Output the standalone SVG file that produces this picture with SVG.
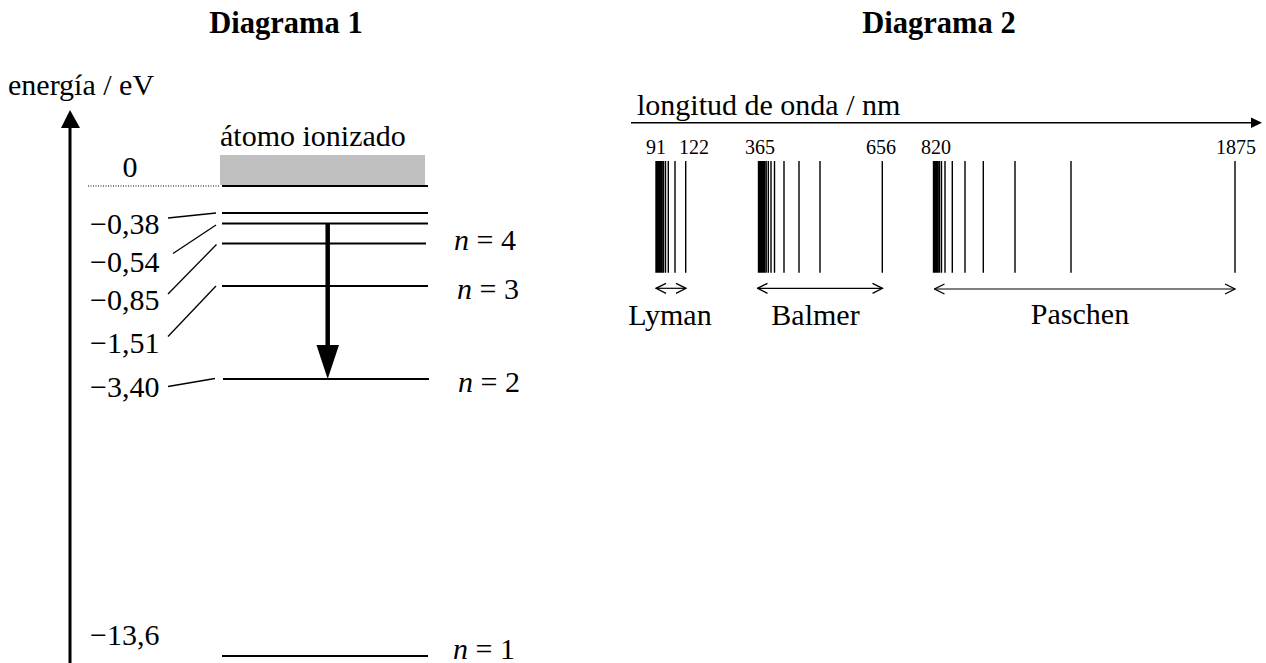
<svg xmlns="http://www.w3.org/2000/svg" width="1266" height="663" viewBox="0 0 1266 663">
<style>
text{font-family:"Liberation Serif","Times New Roman",serif;fill:#000}
.t{font-size:30px}
.h{font-size:30.5px;font-weight:bold}
.s{font-size:20px}
.lv{stroke:#000;stroke-width:2.2;fill:none}
.ld{stroke:#000;stroke-width:1.3;fill:none}
.sp{stroke:#000;stroke-width:1.4;fill:none}
.da{stroke:#000;stroke-width:1.2;fill:none}
</style>
<defs>
<marker id="open" viewBox="0 0 12 12" refX="11" refY="6" markerWidth="12" markerHeight="12" markerUnits="userSpaceOnUse" orient="auto-start-reverse">
<path d="M1,1 L11,6 L1,11" fill="none" stroke="#000" stroke-width="1.3"/>
</marker>
</defs>
<g font-family="Liberation Serif, Times New Roman, serif">
<g id="titles">
<text class="h" x="286" y="33" text-anchor="middle">Diagrama 1</text>
<text class="h" x="939" y="33" text-anchor="middle">Diagrama 2</text>
</g>

<g id="diagram1">
<g id="energy-axis">
<line x1="70" y1="126" x2="70" y2="663" stroke="#000" stroke-width="3"/>
<polygon points="70,110 61,128 80,128" fill="#000"/>
<text class="t" x="8" y="95">energía / eV</text>
</g>
<g id="ionized">
<rect x="220" y="155" width="205" height="30" fill="#c0c0c0"/>
<text class="t" x="220" y="146">átomo ionizado</text>
<line x1="88" y1="186" x2="220" y2="186" stroke="#000" stroke-width="1" stroke-dasharray="1,1.5"/>
<line class="lv" x1="222" y1="186" x2="428" y2="186"/>
<text class="t" x="130" y="177" text-anchor="middle">0</text>
</g>
<g id="levels">
<line class="lv" x1="222" y1="213" x2="428" y2="213"/>
<line class="lv" x1="222" y1="223.5" x2="428" y2="223.5"/>
<line class="lv" x1="222" y1="243.5" x2="426" y2="243.5"/>
<line class="lv" x1="222" y1="286" x2="428" y2="286"/>
<line class="lv" x1="223" y1="379" x2="429" y2="379"/>
<line class="lv" x1="222" y1="656" x2="428" y2="656"/>
</g>
<g id="level-labels">
<text class="t" x="90" y="234">−0,38</text>
<text class="t" x="90" y="272">−0,54</text>
<text class="t" x="90" y="310">−0,85</text>
<text class="t" x="90" y="353">−1,51</text>
<text class="t" x="90" y="397">−3,40</text>
<text class="t" x="90" y="645">−13,6</text>
</g>
<g id="leaders">
<line class="ld" x1="168" y1="218" x2="216" y2="213"/>
<line class="ld" x1="173" y1="253.5" x2="216" y2="225"/>
<line class="ld" x1="168" y1="294" x2="216.5" y2="244.5"/>
<line class="ld" x1="168" y1="336.5" x2="216" y2="286"/>
<line class="ld" x1="168" y1="386.5" x2="215" y2="378.5"/>
</g>
<g id="n-labels">
<text class="t" x="454" y="250"><tspan font-style="italic">n</tspan> = 4</text>
<text class="t" x="457" y="299"><tspan font-style="italic">n</tspan> = 3</text>
<text class="t" x="458" y="392"><tspan font-style="italic">n</tspan> = 2</text>
<text class="t" x="453" y="659"><tspan font-style="italic">n</tspan> = 1</text>
</g>
<g id="transition">
<line x1="327.7" y1="223.5" x2="327.7" y2="347" stroke="#000" stroke-width="4.5"/>
<polygon points="316.5,345 339,345 327.7,379" fill="#000"/>
</g>
</g>

<g id="diagram2">
<g id="wavelength-axis">
<line x1="631" y1="122.7" x2="1253" y2="122.7" stroke="#000" stroke-width="1.6"/>
<polygon points="1262,122.7 1251,117.5 1251,128" fill="#000"/>
<text class="t" x="637" y="115">longitud de onda / nm</text>
</g>
<g id="tick-labels">
<text class="s" x="646" y="154">91</text>
<text class="s" x="679" y="154">122</text>
<text class="s" x="745" y="154">365</text>
<text class="s" x="866" y="154">656</text>
<text class="s" x="921" y="154">820</text>
<text class="s" x="1216" y="154">1875</text>
</g>
<g id="lyman">
<path class="sp" d="M656,161V272.7M657.2,161V272.7M658.4,161V272.7M659.6,161V272.7M660.8,161V272.7M662,161V272.7M663.5,161V272.7M665.5,161V272.7M668.3,161V272.7M675,161V272.7M685.7,161V272.7"/>
</g>
<g id="balmer">
<path class="sp" d="M758.5,161V272.7M759.7,161V272.7M760.9,161V272.7M762.1,161V272.7M763.3,161V272.7M764.6,161V272.7M766.2,161V272.7M768.3,161V272.7M771,161V272.7M774.5,161V272.7M784,161V272.7M799,161V272.7M820,161V272.7M882.3,161V272.7"/>
</g>
<g id="paschen">
<path class="sp" d="M933.5,161V272.7M934.6,161V272.7M935.7,161V272.7M936.8,161V272.7M938,161V272.7M939.5,161V272.7M941.5,161V272.7M945,161V272.7M952.3,161V272.7M965,161V272.7M983.3,161V272.7M1015,161V272.7M1071,161V272.7M1235,161V272.7"/>
</g>
<g id="connectors">
<line class="da" x1="656" y1="288.3" x2="686" y2="288.3" marker-start="url(#open)" marker-end="url(#open)"/>
<line class="da" x1="757.5" y1="288.3" x2="882.5" y2="288.3" marker-start="url(#open)" marker-end="url(#open)"/>
<line class="da" x1="934.5" y1="289" x2="1235" y2="289" marker-start="url(#open)" marker-end="url(#open)"/>
</g>
<g id="series-labels">
<text class="t" x="670" y="325" text-anchor="middle">Lyman</text>
<text class="t" x="815.5" y="325" text-anchor="middle">Balmer</text>
<text class="t" x="1080" y="324" text-anchor="middle">Paschen</text>
</g>
</g>
</g>
</svg>
